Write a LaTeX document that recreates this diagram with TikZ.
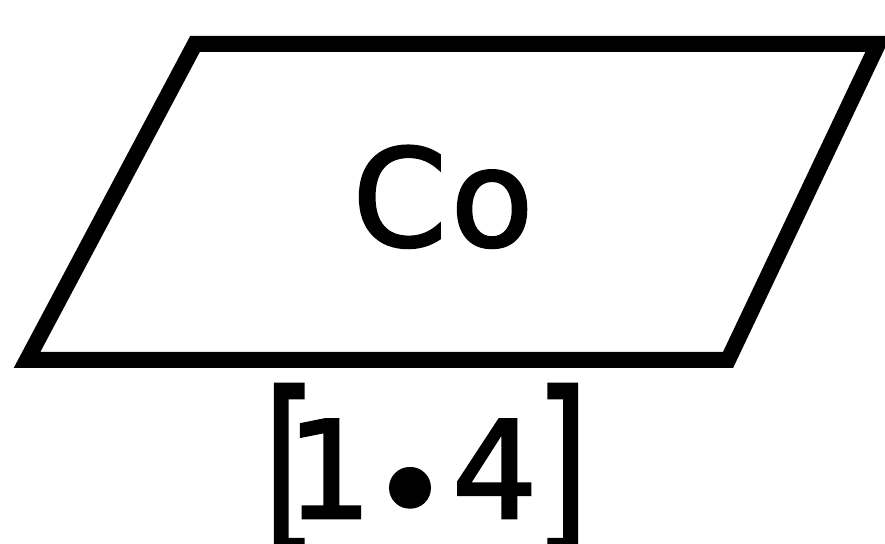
\documentclass[tikz,border=0pt]{standalone}
\usepackage{fontspec}
\setmainfont{DejaVu Sans}
\newfontfamily\lettering[FakeBold=2]{DejaVu Sans}
\begin{document}
\begin{tikzpicture}[x=1pt,y=1pt,
  shapeline/.style={draw=black,line width=16pt,line join=miter,miter limit=3},
  bigtext/.style={inner sep=0pt,font=\fontsize{135}{135}\lettering}]
\useasboundingbox (0,0) rectangle (885,543);
\coordinate (tl) at (195,499);
\coordinate (tr) at (878,499);
\coordinate (br) at (728,183);
\coordinate (bl) at (27,183);
\draw[shapeline] (tl) -- (tr) -- (br) -- (bl) -- cycle;
\node[bigtext,anchor=base] (co) at (443,297) {C\kern4pt o};
\node[bigtext,anchor=base] (ref) at (426,25) {\raisebox{-10pt}{\scalebox{1}[1.4]{[}}\kern-30pt 1\kern-2pt\raisebox{-20pt}{•}\kern2pt 4\kern-2pt\raisebox{-10pt}{\scalebox{1}[1.4]{]}}};
\end{tikzpicture}
\end{document}
